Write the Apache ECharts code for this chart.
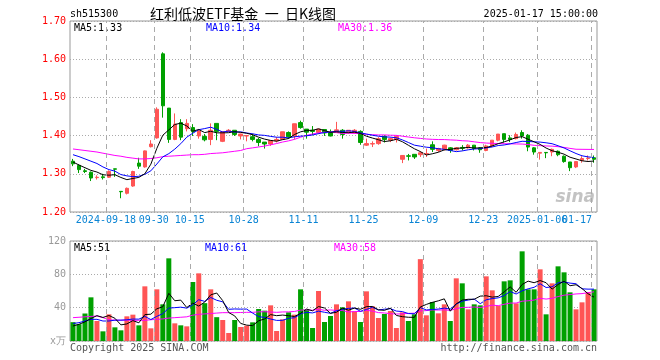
<!DOCTYPE html>
<html>
<head>
<meta charset="utf-8">
<script src="https://cdn.jsdelivr.net/npm/echarts@6/dist/echarts.min.js"></script>
<style>html,body{margin:0;padding:0;background:#fff}#c{width:660px;height:360px}</style>
</head>
<body>
<div id="c"></div>
<script>
// ---- data ----
const dates = [
'2024-09-06','2024-09-09','2024-09-10','2024-09-11','2024-09-12','2024-09-13','2024-09-18','2024-09-19','2024-09-20','2024-09-23',
'2024-09-24','2024-09-25','2024-09-26','2024-09-27','2024-09-30','2024-10-08','2024-10-09','2024-10-10','2024-10-11','2024-10-14',
'2024-10-15','2024-10-16','2024-10-17','2024-10-18','2024-10-21','2024-10-22','2024-10-23','2024-10-24','2024-10-25','2024-10-28',
'2024-10-29','2024-10-30','2024-10-31','2024-11-01','2024-11-04','2024-11-05','2024-11-06','2024-11-07','2024-11-08','2024-11-11',
'2024-11-12','2024-11-13','2024-11-14','2024-11-15','2024-11-18','2024-11-19','2024-11-20','2024-11-21','2024-11-22','2024-11-25',
'2024-11-26','2024-11-27','2024-11-28','2024-11-29','2024-12-02','2024-12-03','2024-12-04','2024-12-05','2024-12-06','2024-12-09',
'2024-12-10','2024-12-11','2024-12-12','2024-12-13','2024-12-16','2024-12-17','2024-12-18','2024-12-19','2024-12-20','2024-12-23',
'2024-12-24','2024-12-25','2024-12-26','2024-12-27','2024-12-30','2024-12-31','2025-01-02','2025-01-03','2025-01-06','2025-01-07',
'2025-01-08','2025-01-09','2025-01-10','2025-01-13','2025-01-14','2025-01-15','2025-01-16','2025-01-17'];

const opens = [1.333,1.322,1.308,1.304,1.290,1.292,1.291,1.313,1.254,1.249,
1.268,1.328,1.318,1.371,1.394,1.614,1.472,1.390,1.434,1.418,
1.421,1.399,1.398,1.390,1.432,1.385,1.411,1.414,1.399,1.399,
1.397,1.390,1.383,1.378,1.386,1.390,1.408,1.399,1.434,1.417,
1.414,1.408,1.416,1.408,1.408,1.414,1.410,1.408,1.411,1.375,
1.378,1.379,1.398,1.388,1.390,1.338,1.347,1.351,1.350,1.352,
1.376,1.361,1.364,1.368,1.363,1.369,1.368,1.375,1.368,1.361,
1.373,1.388,1.405,1.394,1.392,1.408,1.401,1.368,1.354,1.356,
1.357,1.359,1.346,1.331,1.318,1.335,1.340,1.342];
const closes = [1.326,1.311,1.306,1.289,1.291,1.290,1.306,1.312,1.253,1.262,
1.306,1.320,1.360,1.378,1.469,1.478,1.390,1.430,1.396,1.432,
1.410,1.412,1.389,1.414,1.411,1.410,1.414,1.403,1.404,1.400,
1.390,1.382,1.378,1.387,1.390,1.410,1.397,1.431,1.421,1.409,
1.411,1.417,1.407,1.399,1.415,1.403,1.414,1.414,1.382,1.379,
1.379,1.392,1.390,1.392,1.398,1.348,1.346,1.344,1.355,1.353,
1.364,1.366,1.375,1.361,1.368,1.367,1.375,1.366,1.363,1.373,
1.388,1.404,1.390,1.390,1.403,1.399,1.370,1.357,1.356,1.355,
1.364,1.350,1.332,1.316,1.332,1.340,1.341,1.338];
const lows = [1.320,1.302,1.302,1.281,1.285,1.285,1.289,1.292,1.236,1.246,
1.266,1.313,1.316,1.369,1.392,1.447,1.381,1.388,1.388,1.411,
1.399,1.392,1.385,1.375,1.388,1.383,1.410,1.399,1.390,1.385,
1.385,1.372,1.366,1.373,1.382,1.389,1.392,1.390,1.418,1.392,
1.401,1.404,1.399,1.398,1.408,1.392,1.405,1.405,1.376,1.373,
1.370,1.376,1.382,1.383,1.382,1.328,1.335,1.339,1.344,1.344,
1.357,1.357,1.361,1.355,1.361,1.361,1.366,1.361,1.355,1.359,
1.370,1.385,1.382,1.383,1.390,1.392,1.359,1.350,1.337,1.341,
1.346,1.346,1.329,1.307,1.315,1.329,1.335,1.329];
const highs = [1.339,1.325,1.313,1.306,1.296,1.300,1.309,1.313,1.254,1.264,
1.308,1.342,1.361,1.388,1.474,1.618,1.472,1.458,1.443,1.443,
1.430,1.417,1.404,1.432,1.432,1.411,1.417,1.414,1.405,1.401,
1.405,1.394,1.383,1.387,1.396,1.410,1.411,1.431,1.439,1.417,
1.425,1.417,1.416,1.416,1.436,1.417,1.414,1.417,1.414,1.392,
1.385,1.396,1.401,1.395,1.401,1.349,1.352,1.351,1.359,1.366,
1.385,1.368,1.376,1.370,1.370,1.375,1.378,1.375,1.370,1.376,
1.388,1.404,1.405,1.401,1.408,1.414,1.404,1.370,1.357,1.356,
1.366,1.361,1.348,1.331,1.332,1.346,1.348,1.348];
const volumes = [22.6,20.2,33,52.4,24,11.6,32,16.4,12.8,29.6,
31.6,18.8,65.6,15.2,62,44,99.2,21.2,18.8,17.6,
70.8,81.2,45.4,62,28.6,25.2,9.6,25.2,16.8,18.4,
22.4,38.4,36.4,42.8,12,26,34.4,31.6,62,37.6,
15.6,60,22.8,30,44,40.4,47.6,35.6,22.8,59.6,
41.6,27.6,32.4,36,15.6,34.4,24,32,98.2,30.8,
46.8,33.2,44,24,75.2,69.2,38,44,42.8,77.6,
60.8,42,71.6,72.8,45.2,107.6,62,62,86,32,
69.2,89.6,82.4,58.4,38,46.4,58.4,62];

// moving-average values for the first bars (window reaches before the shown data)
const priceMa5Head = [1.331,1.323,1.316,1.309];
const priceMa10Head = [1.350,1.345,1.339,1.333,1.327,1.318,1.311,1.307,1.298];
const priceMa30Head = [1.365,1.363,1.361,1.359,1.357,1.354,1.351,1.348,1.346,1.343,
1.341,1.339,1.339,1.340,1.342,1.345,1.346,1.347,1.348,1.349,
1.350,1.350,1.351,1.353,1.354,1.355,1.357,1.359,1.361];
const volMa5Head = [18,20,23,27];
const volMa10Head = [21,22,24,26,26,24,24,25,25];
const volMa30Head = [28,28.5,29,29.5,30,28,25.5,25,25,25,
24.8,24.8,24.8,25.5,26,26.5,27.5,28,28.5,29,
31,32,32.5,33,33.5,34,34,34,34.2];

// x-axis tick labels (index of the trading day that starts each labelled period)
const tickIndex = [6,14,20,29,39,49,59,69,78,87];
const tickText = ['2024-09-18','09-30','10-15','10-28','11-11','11-25','12-09','12-23','2025-01-06','01-17'];

// ---- build ----
function movingAvg(vals, n, head, dec) {
  return vals.map((v, i) => {
    if (i < n - 1) return head[i];
    let s = 0;
    for (let k = i - n + 1; k <= i; k++) s += vals[k];
    return +(s / n).toFixed(dec);
  });
}
const candle = dates.map((d, i) => [opens[i], closes[i], lows[i], highs[i]]);
const UP = '#ff5555', DOWN = '#00a000';
const volData = volumes.map((v, i) => ({value: v, itemStyle: {color: closes[i] >= opens[i] ? UP : DOWN}}));
const lastIdx = tickIndex[tickIndex.length - 1];
const mainTicks = new Set(tickIndex.slice(0, -1));
const MONO = 'DejaVu Sans Mono';
const LABEL_BLUE = '#0a84d4';

const dottedY = {show: true, lineStyle: {color: '#aaa', type: [1, 2], width: 1}};

function lineSeries(data, color, xi, yi) {
  return {type: 'line', data, xAxisIndex: xi, yAxisIndex: yi, symbol: 'none', silent: true,
    lineStyle: {color, width: 1}, itemStyle: {color}, z: 3};
}
// period separators: drawn on a hidden value axis spanning the day slots (slot k starts at value k)
function separatorSeries(xi, yi, yMin) {
  return {type: 'line', xAxisIndex: xi, yAxisIndex: yi, data: [[0, yMin]], symbol: 'none', silent: true, z: 1,
    lineStyle: {width: 0},
    markLine: {symbol: 'none', silent: true, label: {show: false}, animation: false,
      lineStyle: {color: '#aaa', type: [5, 4], width: 1},
      data: tickIndex.map(i => ({xAxis: i}))}};
}
function labelFor(idx) {
  const k = tickIndex.indexOf(idx);
  return k < 0 ? '' : tickText[k];
}

const chart = echarts.init(document.getElementById('c'), null, {renderer: 'canvas'});
chart.setOption({
  animation: false,
  backgroundColor: '#fff',
  grid: [
    {left: 70, top: 21, width: 527, height: 191, show: true, borderColor: '#999', borderWidth: 1},
    {left: 70, top: 241, width: 527, height: 100, show: true, borderColor: '#999', borderWidth: 1}
  ],
  xAxis: [
    {type: 'category', gridIndex: 0, position: 'bottom', data: dates, boundaryGap: true,
     axisLine: {show: false}, axisTick: {show: false}, splitLine: {show: false},
     axisLabel: {interval: (idx) => mainTicks.has(idx), margin: 3, showMaxLabel: true, showMinLabel: true, hideOverlap: false,
       formatter: (v, idx) => '{a|' + labelFor(idx) + '}',
       rich: {a: {color: LABEL_BLUE, fontFamily: MONO, fontSize: 10, padding: [0, 6, 0, 0]}}}},
    {type: 'category', gridIndex: 1, data: dates, boundaryGap: true,
     axisLine: {show: false}, axisTick: {show: false}, axisLabel: {show: false}, splitLine: {show: false}},
    {type: 'value', gridIndex: 0, min: 0, max: dates.length, show: false},
    {type: 'value', gridIndex: 1, min: 0, max: dates.length, show: false},
    // carries only the last date label (right-aligned to the plot edge)
    {type: 'category', gridIndex: 0, position: 'bottom', data: dates, boundaryGap: true,
     axisLine: {show: false}, axisTick: {show: false}, splitLine: {show: false},
     axisLabel: {interval: (idx) => idx === lastIdx, margin: 3, showMaxLabel: true, showMinLabel: true, hideOverlap: false,
       formatter: (v, idx) => '{r|' + labelFor(idx) + '}',
       rich: {r: {color: LABEL_BLUE, fontFamily: MONO, fontSize: 10, padding: [0, 34, 0, 0]}}}}
  ],
  yAxis: [
    {type: 'value', gridIndex: 0, min: 1.2, max: 1.7, interval: 0.1,
     axisLine: {show: false}, axisTick: {show: false}, splitLine: dottedY,
     axisLabel: {color: '#ff0000', fontFamily: MONO, fontSize: 10, margin: 4, formatter: v => v.toFixed(2)}},
    {type: 'value', gridIndex: 1, min: 0, max: 120, interval: 40,
     axisLine: {show: false}, axisTick: {show: false}, splitLine: dottedY,
     axisLabel: {color: '#999', fontFamily: MONO, fontSize: 10, margin: 4, formatter: v => v === 0 ? 'x万' : String(v)}}
  ],
  series: [
    separatorSeries(2, 0, 1.2),
    separatorSeries(3, 1, 0),
    {type: 'candlestick', xAxisIndex: 0, yAxisIndex: 0, data: candle, barWidth: 4, silent: true, z: 2,
     itemStyle: {color: UP, color0: DOWN, borderColor: UP, borderColor0: DOWN, borderWidth: 1}},
    lineSeries(movingAvg(closes, 30, priceMa30Head, 4), '#ff00ff', 0, 0),
    lineSeries(movingAvg(closes, 10, priceMa10Head, 4), '#0000ff', 0, 0),
    lineSeries(movingAvg(closes, 5, priceMa5Head, 4), '#000000', 0, 0),
    {type: 'bar', xAxisIndex: 1, yAxisIndex: 1, data: volData, barWidth: 5, silent: true, z: 2},
    lineSeries(movingAvg(volumes, 30, volMa30Head, 2), '#ff00ff', 1, 1),
    lineSeries(movingAvg(volumes, 10, volMa10Head, 2), '#0000ff', 1, 1),
    lineSeries(movingAvg(volumes, 5, volMa5Head, 2), '#000000', 1, 1)
  ],
  graphic: [
    {type: 'text', x: 70, y: 14, style: {text: 'sh515300', fill: '#000', font: '10px "DejaVu Sans Mono"', textAlign: 'left', textVerticalAlign: 'middle'}},
    {type: 'text', x: 150, y: 14, style: {text: '红利低波ETF基金  一  日K线图', fill: '#000', font: '14px "Noto Sans CJK SC"', textAlign: 'left', textVerticalAlign: 'middle'}},
    {type: 'text', x: 598, y: 14, style: {text: '2025-01-17 15:00:00', fill: '#000', font: '10px "DejaVu Sans Mono"', textAlign: 'right', textVerticalAlign: 'middle'}},
    {type: 'text', x: 74, y: 28, style: {text: 'MA5:1.33', fill: '#000', font: '10px "DejaVu Sans Mono"', textAlign: 'left', textVerticalAlign: 'middle'}},
    {type: 'text', x: 206, y: 28, style: {text: 'MA10:1.34', fill: '#0000ff', font: '10px "DejaVu Sans Mono"', textAlign: 'left', textVerticalAlign: 'middle'}},
    {type: 'text', x: 338, y: 28, style: {text: 'MA30:1.36', fill: '#ff00ff', font: '10px "DejaVu Sans Mono"', textAlign: 'left', textVerticalAlign: 'middle'}},
    {type: 'text', x: 74, y: 248, style: {text: 'MA5:51', fill: '#000', font: '10px "DejaVu Sans Mono"', textAlign: 'left', textVerticalAlign: 'middle'}},
    {type: 'text', x: 205, y: 248, style: {text: 'MA10:61', fill: '#0000ff', font: '10px "DejaVu Sans Mono"', textAlign: 'left', textVerticalAlign: 'middle'}},
    {type: 'text', x: 334, y: 248, style: {text: 'MA30:58', fill: '#ff00ff', font: '10px "DejaVu Sans Mono"', textAlign: 'left', textVerticalAlign: 'middle'}},
    {type: 'text', x: 70, y: 348, style: {text: 'Copyright 2025 SINA.COM', fill: '#555', font: '10px "DejaVu Sans Mono"', textAlign: 'left', textVerticalAlign: 'middle'}},
    {type: 'text', x: 597, y: 348, style: {text: 'http://finance.sina.com.cn', fill: '#555', font: '10px "DejaVu Sans Mono"', textAlign: 'right', textVerticalAlign: 'middle'}},
    {type: 'text', x: 595, y: 198, style: {text: 'sina', fill: 'rgba(170,170,170,0.7)', font: 'italic bold 17px "DejaVu Sans"', textAlign: 'right', textVerticalAlign: 'middle'}}
  ]
});
</script>
</body>
</html>
